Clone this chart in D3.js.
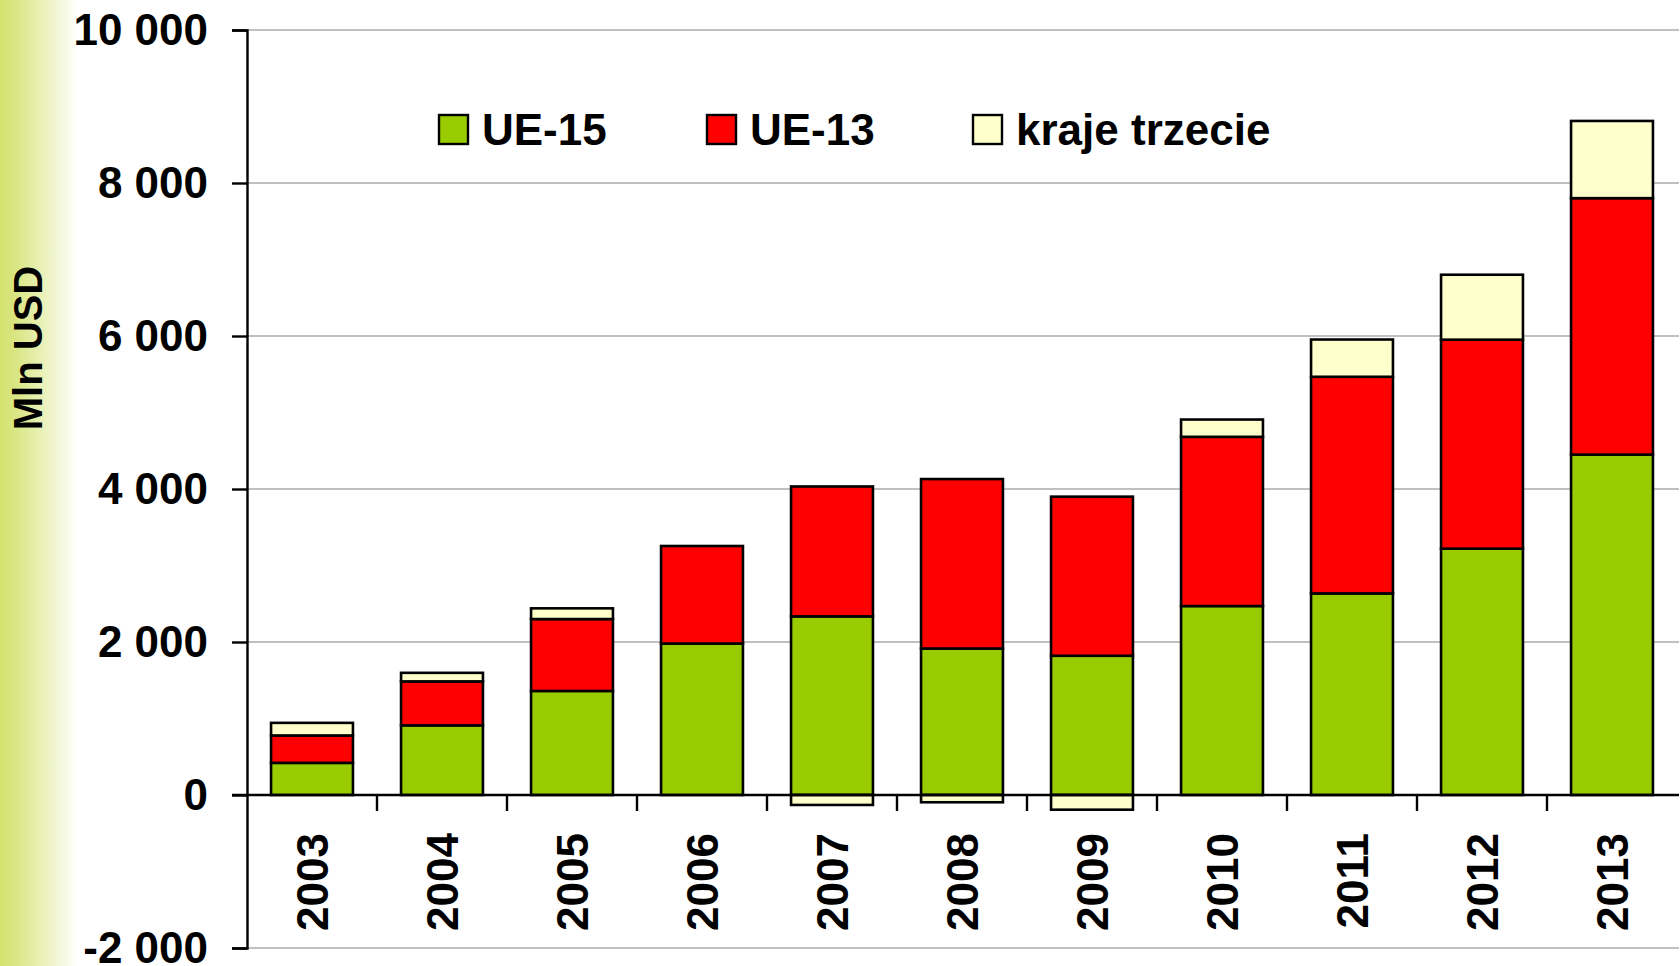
<!DOCTYPE html>
<html>
<head>
<meta charset="utf-8">
<script src="https://cdn.jsdelivr.net/npm/d3@7"></script>
<style>
  html, body { margin: 0; padding: 0; background: #ffffff; }
  svg { display: block; }
  text { font-family: "Liberation Sans", Arial, sans-serif; font-weight: bold; fill: #000; }
</style>
</head>
<body>
<svg id="chart" width="1680" height="966"></svg>
<script>
// ---- data ----
const years = ["2003","2004","2005","2006","2007","2008","2009","2010","2011","2012","2013"];
const seriesNames = ["UE-15", "UE-13", "kraje trzecie"];
const ue15  = [420, 910, 1360, 1980, 2335, 1915, 1820, 2470, 2635, 3220, 4450];
const ue13  = [358, 575, 940, 1275, 1698, 2215, 2080, 2212, 2832, 2732, 3352];
const trzec = [165, 112, 140, 0, -130, -95, -192, 226, 487, 849, 1009];
const yTicks = [-2000, 0, 2000, 4000, 6000, 8000, 10000];
const colors = ["#99cc00", "#ff0000", "#ffffcc"];

// ---- layout ----
const W = 1680, H = 966;
const mLeft = 247, mRight = 1677, mTop = 30, mBottom = 948;

const svg = d3.select("#chart");

// left gradient band
const defs = svg.append("defs");
const grad = defs.append("linearGradient").attr("id", "lg").attr("x1", "0").attr("x2", "1").attr("y1", "0").attr("y2", "0");
grad.append("stop").attr("offset", "0").attr("stop-color", "#d4e26e");
grad.append("stop").attr("offset", "0.2").attr("stop-color", "#d9e683");
grad.append("stop").attr("offset", "1").attr("stop-color", "#ffffff");
svg.append("rect").attr("x", 0).attr("y", 0).attr("width", 78).attr("height", H).attr("fill", "url(#lg)");

const rows = years.map((yr, i) => ({ year: yr, "UE-15": ue15[i], "UE-13": ue13[i], "kraje trzecie": trzec[i] }));

const x = d3.scaleBand().domain(years).range([mLeft, mRight]).paddingInner(0.37).paddingOuter(0.185);
const xb = d3.scaleBand().domain(years).range([mLeft, mRight]).padding(0);
const y = d3.scaleLinear().domain([-2000, 10000]).range([mBottom, mTop]);

// gridlines
svg.append("g").selectAll("line").data(yTicks.filter(d => d !== 0)).join("line")
  .attr("x1", mLeft).attr("x2", 1679)
  .attr("y1", d => y(d)).attr("y2", d => y(d))
  .attr("stroke", "#c0c0c0").attr("stroke-width", 2);

// stacked bars
const stack = d3.stack().keys(seriesNames).offset(d3.stackOffsetDiverging);
const stacked = stack(rows);
const g = svg.append("g");
stacked.forEach((layer, li) => {
  g.append("g").selectAll("rect").data(layer.filter(d => d[1] !== d[0])).join("rect")
    .attr("x", d => x(d.data.year))
    .attr("width", x.bandwidth())
    .attr("y", d => y(Math.max(d[0], d[1])))
    .attr("height", d => Math.abs(y(d[0]) - y(d[1])))
    .attr("fill", colors[li])
    .attr("stroke", "#000").attr("stroke-width", 2.6);
});

// y axis
const yAxis = d3.axisLeft(y).tickValues(yTicks).tickSize(15).tickPadding(24)
  .tickFormat(d => d3.format(",")(d).replace(/,/g, " ").replace("−", "-"));
const ya = svg.append("g").attr("transform", `translate(${mLeft},0)`).call(yAxis);
ya.select(".domain").attr("stroke", "#000").attr("stroke-width", 2.4);
ya.selectAll(".tick line").attr("stroke", "#000").attr("stroke-width", 2.4);
ya.selectAll(".tick text").attr("font-size", 44).attr("font-family", "Liberation Sans, Arial, sans-serif")
  .attr("font-weight", "bold").attr("fill", "#000").attr("dy", "0.33em");

// x axis at zero
svg.append("line").attr("x1", mLeft - 15).attr("x2", 1679).attr("y1", y(0)).attr("y2", y(0))
  .attr("stroke", "#000").attr("stroke-width", 2.4);
svg.append("g").selectAll("line").data(years.slice(1)).join("line")
  .attr("x1", d => xb(d)).attr("x2", d => xb(d))
  .attr("y1", y(0)).attr("y2", y(0) + 16)
  .attr("stroke", "#000").attr("stroke-width", 2.4);

// x labels
svg.append("g").selectAll("text").data(years).join("text")
  .attr("transform", d => `translate(${xb(d) + xb.bandwidth() / 2 + 16},833) rotate(-90)`)
  .attr("text-anchor", "end")
  .attr("font-size", 44)
  .text(d => d);

// y title
svg.append("text")
  .attr("transform", "translate(42,348) rotate(-90)")
  .attr("text-anchor", "middle")
  .attr("font-size", 40)
  .text("Mln USD");

// legend
const legX = [439, 707, 973];
const leg = svg.append("g");
seriesNames.forEach((name, i) => {
  leg.append("rect").attr("x", legX[i]).attr("y", 115).attr("width", 29).attr("height", 29)
    .attr("fill", colors[i]).attr("stroke", "#000").attr("stroke-width", 2.4);
  leg.append("text").attr("x", legX[i] + 43).attr("y", 145).attr("font-size", 44).text(name);
});
</script>
</body>
</html>
